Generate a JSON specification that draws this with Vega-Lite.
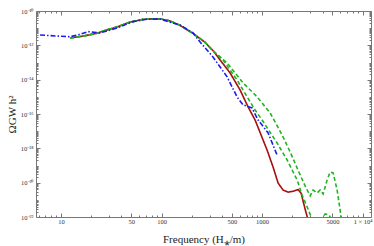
{
  "$schema": "https://vega.github.io/schema/vega-lite/v6.json",
  "width": 335,
  "height": 206,
  "autosize": {"type": "none"},
  "padding": {"left": 36, "top": 11, "right": 3, "bottom": 29},
  "config": {
    "view": {"stroke": "#777", "strokeWidth": 1},
    "axis": {"domain": false, "grid": false, "tickColor": "#777", "labelFont": "Liberation Serif", "titleFont": "Liberation Serif", "labelColor": "#333", "titleColor": "#222", "labelFontSize": 6.5, "titleFontWeight": "normal", "labelOverlap": false, "labelFlush": false}
  },
  "data": {"values": [
    {"series": "red", "f": 12.3, "omega": 2.69e-12},
    {"series": "red", "f": 17, "omega": 3.55e-12},
    {"series": "red", "f": 22.7, "omega": 5.01e-12},
    {"series": "red", "f": 28, "omega": 7.59e-12},
    {"series": "red", "f": 36, "omega": 1.17e-11},
    {"series": "red", "f": 48, "omega": 2.19e-11},
    {"series": "red", "f": 65, "omega": 3.24e-11},
    {"series": "red", "f": 85, "omega": 3.55e-11},
    {"series": "red", "f": 100, "omega": 3.39e-11},
    {"series": "red", "f": 120, "omega": 2.69e-11},
    {"series": "red", "f": 151, "omega": 1.51e-11},
    {"series": "red", "f": 205, "omega": 5.01e-12},
    {"series": "red", "f": 268, "omega": 1.58e-12},
    {"series": "red", "f": 330, "omega": 4.47e-13},
    {"series": "red", "f": 382, "omega": 1.41e-13},
    {"series": "red", "f": 481, "omega": 2.45e-14},
    {"series": "red", "f": 604, "omega": 2.51e-15},
    {"series": "red", "f": 726, "omega": 2.57e-16},
    {"series": "red", "f": 852, "omega": 4.47e-17},
    {"series": "red", "f": 1121, "omega": 7.94e-19},
    {"series": "red", "f": 1286, "omega": 8.13e-20},
    {"series": "red", "f": 1442, "omega": 9.55e-21},
    {"series": "red", "f": 1617, "omega": 3.72e-21},
    {"series": "red", "f": 1814, "omega": 2.82e-21},
    {"series": "red", "f": 2034, "omega": 3.16e-21},
    {"series": "red", "f": 2281, "omega": 3.98e-21},
    {"series": "red", "f": 2444, "omega": 2.40e-21},
    {"series": "red", "f": 2680, "omega": 2.82e-22},
    {"series": "red", "f": 2872, "omega": 6.31e-23},
    {"series": "red", "f": 3007, "omega": 2.0e-23},

    {"series": "greenA", "f": 12.3, "omega": 2.69e-12},
    {"series": "greenA", "f": 17, "omega": 3.55e-12},
    {"series": "greenA", "f": 22.7, "omega": 5.01e-12},
    {"series": "greenA", "f": 28, "omega": 7.59e-12},
    {"series": "greenA", "f": 36, "omega": 1.17e-11},
    {"series": "greenA", "f": 48, "omega": 2.19e-11},
    {"series": "greenA", "f": 65, "omega": 3.24e-11},
    {"series": "greenA", "f": 85, "omega": 3.55e-11},
    {"series": "greenA", "f": 100, "omega": 3.39e-11},
    {"series": "greenA", "f": 120, "omega": 2.69e-11},
    {"series": "greenA", "f": 151, "omega": 1.51e-11},
    {"series": "greenA", "f": 205, "omega": 5.01e-12},
    {"series": "greenA", "f": 268, "omega": 1.58e-12},
    {"series": "greenA", "f": 330, "omega": 4.47e-13},
    {"series": "greenA", "f": 409, "omega": 1.41e-13},
    {"series": "greenA", "f": 564, "omega": 9.55e-15},
    {"series": "greenA", "f": 710, "omega": 1.0e-15},
    {"series": "greenA", "f": 852, "omega": 1.70e-16},
    {"series": "greenA", "f": 1000, "omega": 4.47e-17},
    {"series": "greenA", "f": 1409, "omega": 2.04e-18},
    {"series": "greenA", "f": 1774, "omega": 2.09e-19},
    {"series": "greenA", "f": 2229, "omega": 1.45e-20},
    {"series": "greenA", "f": 2501, "omega": 1.91e-21},
    {"series": "greenA", "f": 2806, "omega": 3.80e-22},
    {"series": "greenA", "f": 3077, "omega": 1.0e-22},
    {"series": "greenA", "f": 3447, "omega": 2.29e-23},
    {"series": "greenA", "f": 3866, "omega": 6.76e-23},
    {"series": "greenA", "f": 4239, "omega": 1.51e-22},
    {"series": "greenA", "f": 4648, "omega": 1.32e-22},
    {"series": "greenA", "f": 5086, "omega": 3.47e-23},

    {"series": "greenB", "f": 12.3, "omega": 2.69e-12},
    {"series": "greenB", "f": 17, "omega": 3.55e-12},
    {"series": "greenB", "f": 22.7, "omega": 5.01e-12},
    {"series": "greenB", "f": 28, "omega": 7.59e-12},
    {"series": "greenB", "f": 36, "omega": 1.17e-11},
    {"series": "greenB", "f": 48, "omega": 2.19e-11},
    {"series": "greenB", "f": 65, "omega": 3.24e-11},
    {"series": "greenB", "f": 85, "omega": 3.55e-11},
    {"series": "greenB", "f": 100, "omega": 3.39e-11},
    {"series": "greenB", "f": 120, "omega": 2.69e-11},
    {"series": "greenB", "f": 151, "omega": 1.51e-11},
    {"series": "greenB", "f": 205, "omega": 5.01e-12},
    {"series": "greenB", "f": 268, "omega": 1.58e-12},
    {"series": "greenB", "f": 330, "omega": 4.47e-13},
    {"series": "greenB", "f": 449, "omega": 9.33e-14},
    {"series": "greenB", "f": 647, "omega": 6.46e-15},
    {"series": "greenB", "f": 892, "omega": 1.0e-15},
    {"series": "greenB", "f": 1202, "omega": 1.15e-16},
    {"series": "greenB", "f": 1346, "omega": 3.47e-17},
    {"series": "greenB", "f": 1581, "omega": 6.03e-18},
    {"series": "greenB", "f": 1900, "omega": 6.17e-19},
    {"series": "greenB", "f": 2389, "omega": 2.82e-20},
    {"series": "greenB", "f": 2680, "omega": 6.46e-21},
    {"series": "greenB", "f": 3007, "omega": 1.70e-21},
    {"series": "greenB", "f": 3216, "omega": 3.72e-21},
    {"series": "greenB", "f": 3525, "omega": 2.51e-21},
    {"series": "greenB", "f": 3776, "omega": 3.72e-21},
    {"series": "greenB", "f": 4046, "omega": 2.19e-21},
    {"series": "greenB", "f": 4436, "omega": 1.45e-20},
    {"series": "greenB", "f": 4753, "omega": 4.17e-20},
    {"series": "greenB", "f": 5086, "omega": 3.72e-20},
    {"series": "greenB", "f": 5573, "omega": 3.72e-21},
    {"series": "greenB", "f": 6110, "omega": 1.0e-22},
    {"series": "greenB", "f": 6397, "omega": 2.29e-23},

    {"series": "blue", "f": 6.2, "omega": 3.98e-12},
    {"series": "blue", "f": 12.3, "omega": 3.16e-12},
    {"series": "blue", "f": 15, "omega": 4.17e-12},
    {"series": "blue", "f": 18.6, "omega": 6.31e-12},
    {"series": "blue", "f": 24.4, "omega": 5.25e-12},
    {"series": "blue", "f": 36.1, "omega": 1.02e-11},
    {"series": "blue", "f": 52, "omega": 2.40e-11},
    {"series": "blue", "f": 71.7, "omega": 3.31e-11},
    {"series": "blue", "f": 96.7, "omega": 3.39e-11},
    {"series": "blue", "f": 153, "omega": 1.51e-11},
    {"series": "blue", "f": 206, "omega": 5.25e-12},
    {"series": "blue", "f": 242, "omega": 1.55e-12},
    {"series": "blue", "f": 325, "omega": 2.09e-13},
    {"series": "blue", "f": 449, "omega": 1.45e-14},
    {"series": "blue", "f": 564, "omega": 9.77e-16},
    {"series": "blue", "f": 647, "omega": 3.39e-16},
    {"series": "blue", "f": 794, "omega": 2.24e-16},
    {"series": "blue", "f": 912, "omega": 4.47e-17},
    {"series": "blue", "f": 1148, "omega": 7.94e-18},
    {"series": "blue", "f": 1409, "omega": 4.07e-19}
  ]},
  "resolve": {"axis": {"x": "independent", "y": "independent"}},
  "layer": [
    {
      "mark": {"type": "line", "clip": true, "strokeWidth": 1.6},
      "encoding": {
        "x": {"field": "f", "type": "quantitative",
          "scale": {"type": "log", "domain": [5.65, 12100], "nice": false},
          "axis": {"orient": "bottom", "values": [10, 50, 100, 500, 1000, 5000, 10000], "format": "d",
            "labelExpr": "datum.value > 9000 ? '1 × 10⁴' : datum.label",
            "tickSize": -4, "labelPadding": 5,
            "title": "Frequency (H⁎/m)", "titleFontSize": 11, "titlePadding": 9}},
        "y": {"field": "omega", "type": "quantitative",
          "scale": {"type": "log", "domain": [1e-22, 1e-10], "nice": false},
          "axis": {"orient": "left", "values": [1e-22, 1e-20, 1e-18, 1e-16, 1e-14, 1e-12, 1e-10],
            "labelExpr": "datum.value < 5e-22 ? '10⁻²²' : datum.value < 5e-20 ? '10⁻²⁰' : datum.value < 5e-18 ? '10⁻¹⁸' : datum.value < 5e-16 ? '10⁻¹⁶' : datum.value < 5e-14 ? '10⁻¹⁴' : datum.value < 5e-12 ? '10⁻¹²' : '10⁻¹⁰'",
            "tickSize": -4, "labelPadding": 7,
            "title": "ΩGW h²", "titleFontSize": 11, "titlePadding": 3}},
        "color": {"field": "series", "type": "nominal",
          "scale": {"domain": ["red", "greenA", "greenB", "blue"], "range": ["#a50f0f", "#22b322", "#22b322", "#1c1cf0"]},
          "legend": null},
        "strokeDash": {"field": "series", "type": "nominal",
          "scale": {"domain": ["red", "greenA", "greenB", "blue"], "range": [[1, 0], [4, 2.5], [4, 2.5], [5, 2, 1.5, 2]]},
          "legend": null}
      }
    },
    {
      "mark": {"type": "line", "strokeOpacity": 0},
      "encoding": {
        "x": {"field": "f", "type": "quantitative",
          "axis": {"orient": "bottom", "values": [6, 7, 8, 9, 20, 30, 40, 60, 70, 80, 90, 200, 300, 400, 600, 700, 800, 900, 2000, 3000, 4000, 6000, 7000, 8000, 9000], "labels": false, "tickSize": -2, "title": null}},
        "y": {"field": "omega", "type": "quantitative",
          "axis": {"orient": "left", "values": [2e-22, 3e-22, 4e-22, 5e-22, 6e-22, 7e-22, 8e-22, 9e-22, 1e-21, 2e-21, 3e-21, 4e-21, 5e-21, 6e-21, 7e-21, 8e-21, 9e-21, 2e-20, 3e-20, 4e-20, 5e-20, 6e-20, 7e-20, 8e-20, 9e-20, 1e-19, 2e-19, 3e-19, 4e-19, 5e-19, 6e-19, 7e-19, 8e-19, 9e-19, 2e-18, 3e-18, 4e-18, 5e-18, 6e-18, 7e-18, 8e-18, 9e-18, 1e-17, 2e-17, 3e-17, 4e-17, 5e-17, 6e-17, 7e-17, 8e-17, 9e-17, 2e-16, 3e-16, 4e-16, 5e-16, 6e-16, 7e-16, 8e-16, 9e-16, 1e-15, 2e-15, 3e-15, 4e-15, 5e-15, 6e-15, 7e-15, 8e-15, 9e-15, 2e-14, 3e-14, 4e-14, 5e-14, 6e-14, 7e-14, 8e-14, 9e-14, 1e-13, 2e-13, 3e-13, 4e-13, 5e-13, 6e-13, 7e-13, 8e-13, 9e-13, 2e-12, 3e-12, 4e-12, 5e-12, 6e-12, 7e-12, 8e-12, 9e-12, 1e-11, 2e-11, 3e-11, 4e-11, 5e-11, 6e-11, 7e-11, 8e-11, 9e-11], "labels": false, "tickSize": -2, "title": null}}
      }
    },
    {
      "mark": {"type": "line", "strokeOpacity": 0},
      "encoding": {
        "x": {"field": "f", "type": "quantitative",
          "axis": {"orient": "top", "values": [10, 50, 100, 500, 1000, 5000, 10000], "labels": false, "tickSize": -4, "title": null}},
        "y": {"field": "omega", "type": "quantitative",
          "axis": {"orient": "right", "values": [1e-22, 1e-20, 1e-18, 1e-16, 1e-14, 1e-12, 1e-10], "labels": false, "tickSize": -4, "title": null}}
      }
    },
    {
      "mark": {"type": "line", "strokeOpacity": 0},
      "encoding": {
        "x": {"field": "f", "type": "quantitative",
          "axis": {"orient": "top", "values": [6, 7, 8, 9, 20, 30, 40, 60, 70, 80, 90, 200, 300, 400, 600, 700, 800, 900, 2000, 3000, 4000, 6000, 7000, 8000, 9000], "labels": false, "tickSize": -2, "title": null}},
        "y": {"field": "omega", "type": "quantitative",
          "axis": {"orient": "right", "values": [2e-22, 3e-22, 4e-22, 5e-22, 6e-22, 7e-22, 8e-22, 9e-22, 1e-21, 2e-21, 3e-21, 4e-21, 5e-21, 6e-21, 7e-21, 8e-21, 9e-21, 2e-20, 3e-20, 4e-20, 5e-20, 6e-20, 7e-20, 8e-20, 9e-20, 1e-19, 2e-19, 3e-19, 4e-19, 5e-19, 6e-19, 7e-19, 8e-19, 9e-19, 2e-18, 3e-18, 4e-18, 5e-18, 6e-18, 7e-18, 8e-18, 9e-18, 1e-17, 2e-17, 3e-17, 4e-17, 5e-17, 6e-17, 7e-17, 8e-17, 9e-17, 2e-16, 3e-16, 4e-16, 5e-16, 6e-16, 7e-16, 8e-16, 9e-16, 1e-15, 2e-15, 3e-15, 4e-15, 5e-15, 6e-15, 7e-15, 8e-15, 9e-15, 2e-14, 3e-14, 4e-14, 5e-14, 6e-14, 7e-14, 8e-14, 9e-14, 1e-13, 2e-13, 3e-13, 4e-13, 5e-13, 6e-13, 7e-13, 8e-13, 9e-13, 2e-12, 3e-12, 4e-12, 5e-12, 6e-12, 7e-12, 8e-12, 9e-12, 1e-11, 2e-11, 3e-11, 4e-11, 5e-11, 6e-11, 7e-11, 8e-11, 9e-11], "labels": false, "tickSize": -2, "title": null}}
      }
    }
  ]
}
